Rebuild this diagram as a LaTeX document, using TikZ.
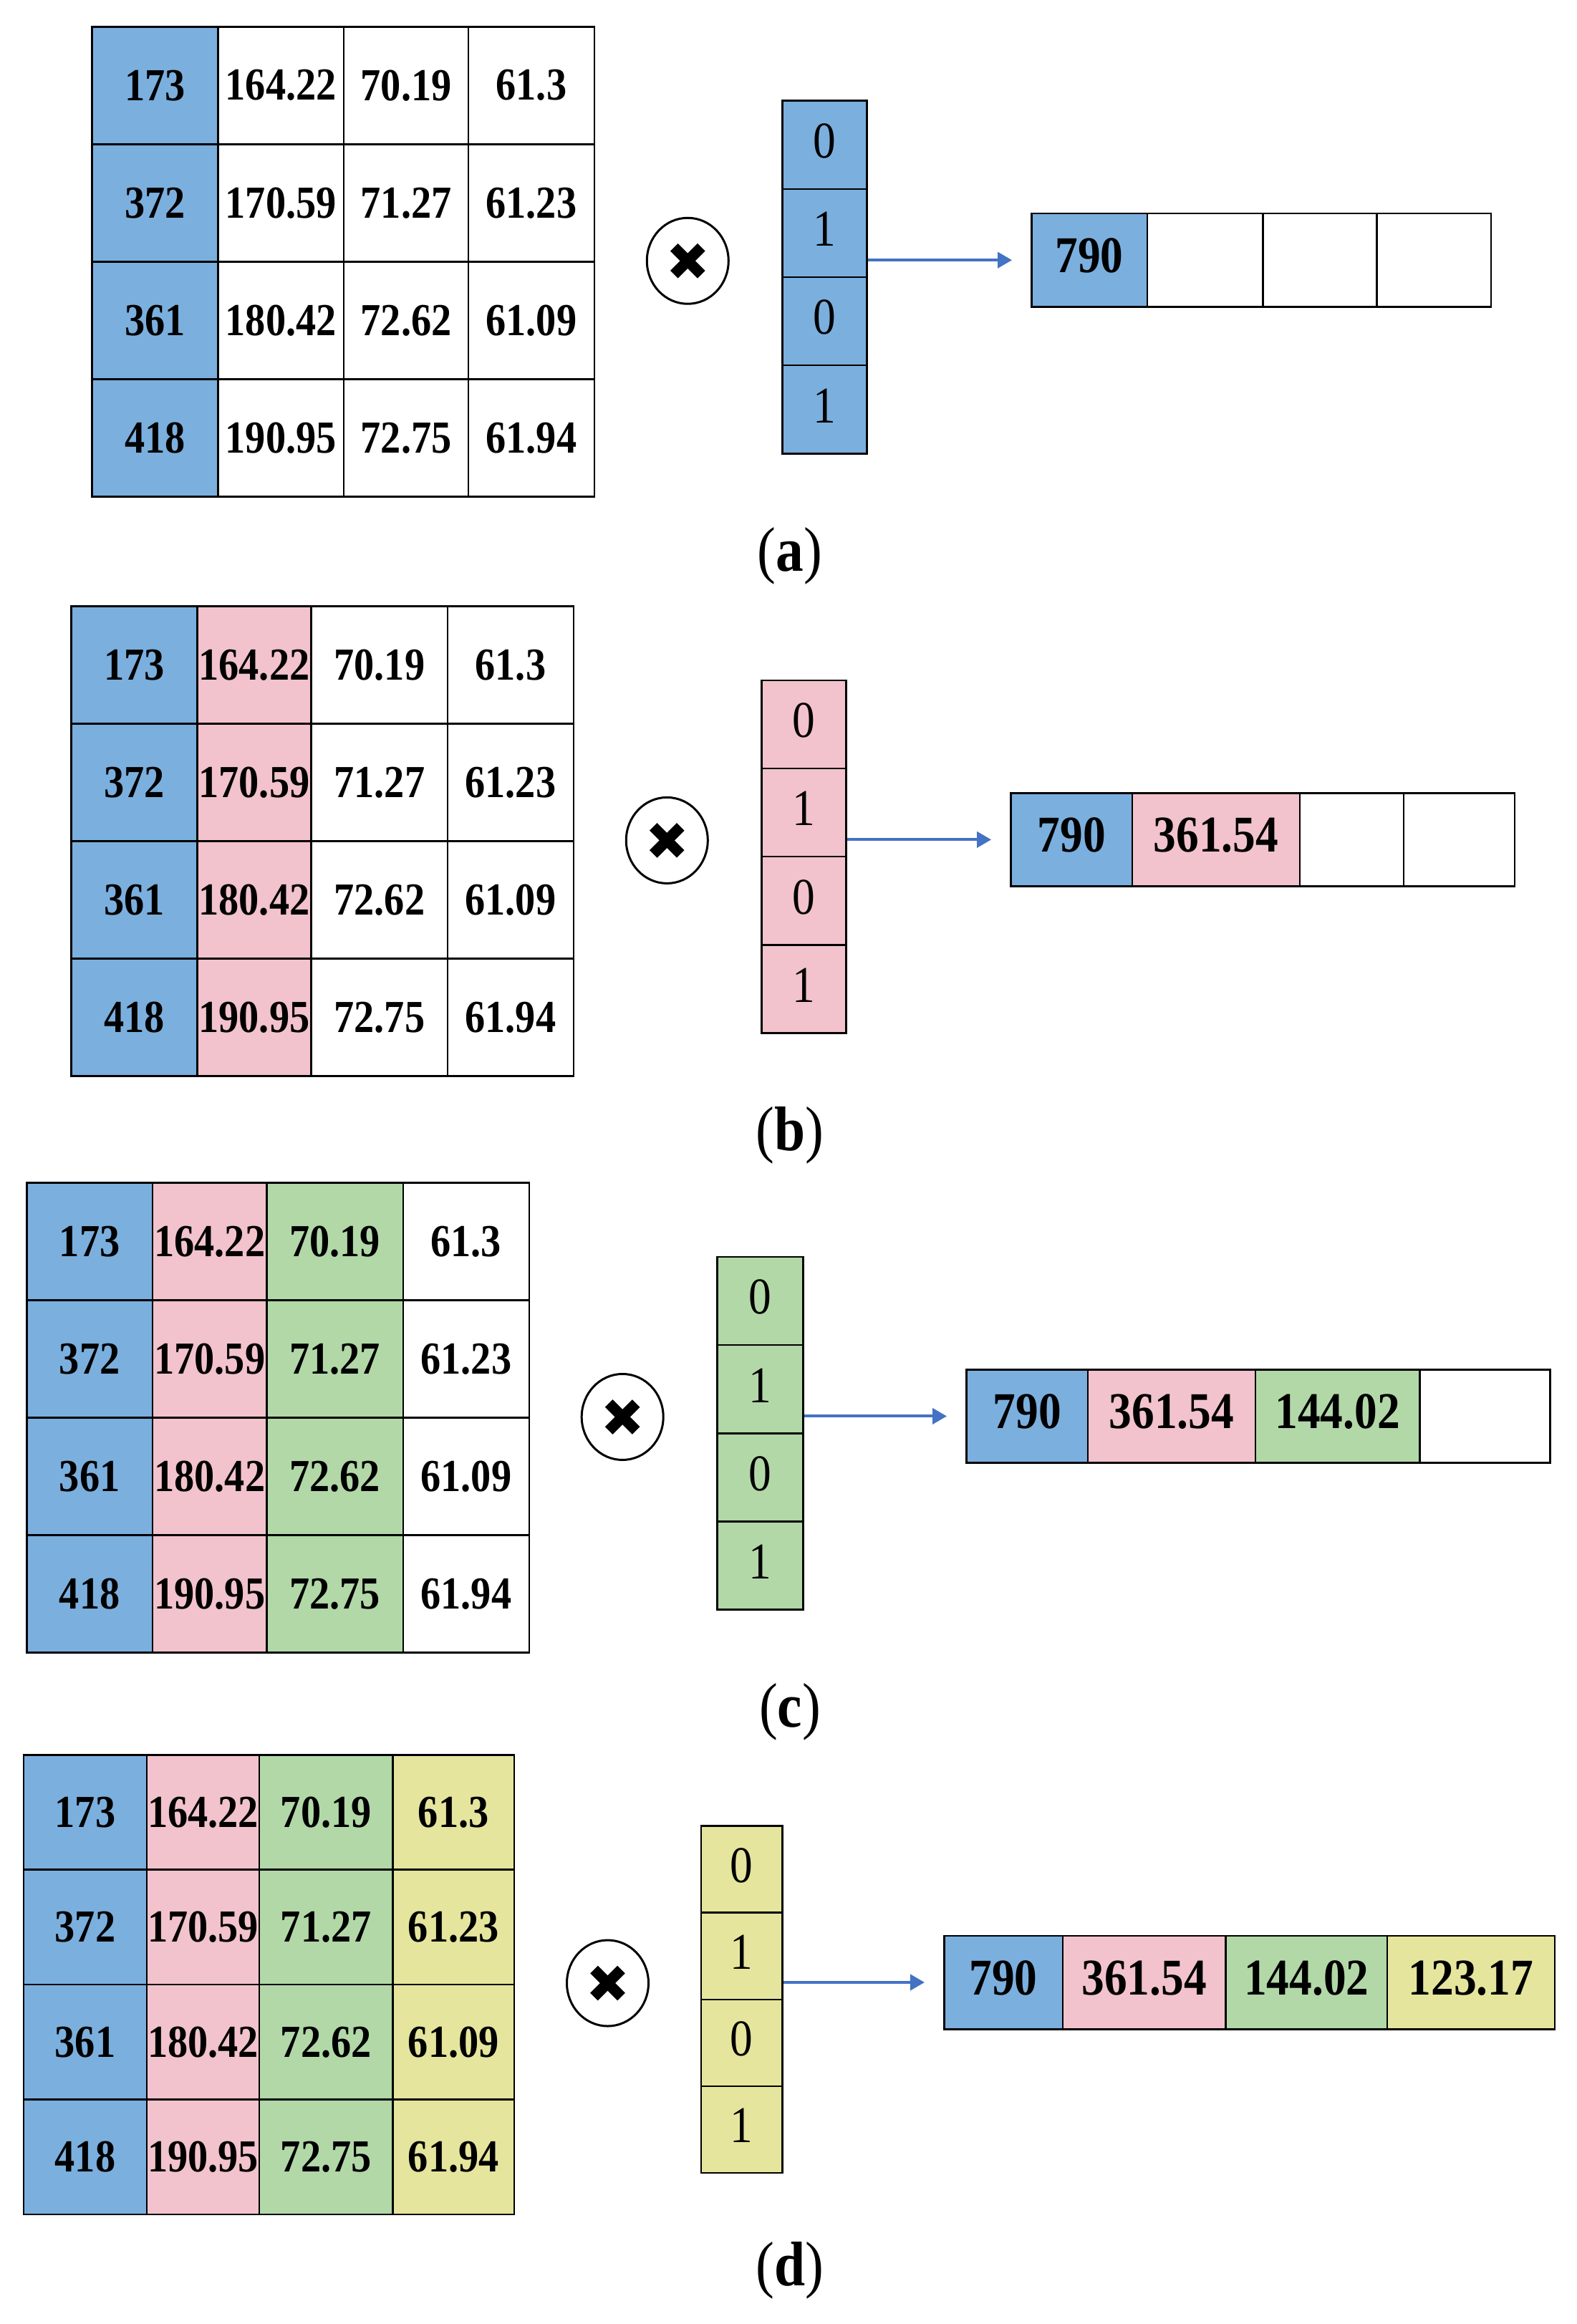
\documentclass[tikz,border=0pt]{standalone}
\usepackage{fontspec}
\setmainfont{Liberation Serif}[FakeStretch=0.88]
\usetikzlibrary{arrows.meta}
\definecolor{cblue}{HTML}{7BAFDE}
\definecolor{cpink}{HTML}{F2C3CC}
\definecolor{cgreen}{HTML}{B2D8A8}
\definecolor{cyellow}{HTML}{E5E59D}
\definecolor{arrowblue}{HTML}{4472C4}
\def\pxu{2.0695pt}
\tikzset{
  cellst/.style={draw=black, line width=2.6pt, inner sep=0pt, font=\fontsize{64}{64}\selectfont\bfseries},
  vecst/.style={draw=black, line width=2.6pt, inner sep=0pt, text height=48.7pt, text depth=12pt, font=\fontsize{72}{72}\selectfont},
  resst/.style={draw=black, line width=2.6pt, inner sep=0pt, text height=48.7pt, text depth=14pt, font=\fontsize{72}{72}\selectfont\bfseries},
  mulst/.style={ellipse, draw=black, line width=3pt, minimum width=114pt, minimum height=120pt, inner sep=0pt,
    path picture={
      \draw[line width=15pt] ([xshift=-19pt,yshift=-19pt]path picture bounding box.center) -- ([xshift=19pt,yshift=19pt]path picture bounding box.center);
      \draw[line width=15pt] ([xshift=-19pt,yshift=19pt]path picture bounding box.center) -- ([xshift=19pt,yshift=-19pt]path picture bounding box.center);
    }},
  arr/.style={draw=arrowblue, line width=4pt, -{Triangle[length=20pt,width=22pt]}, shorten >=26pt},
  lab/.style={font=\fontsize{88}{88}\selectfont, inner sep=0pt},
  fA/.style={fill=white}, fB/.style={fill=white}, fC/.style={fill=white}, fD/.style={fill=white}
}
\usetikzlibrary{shapes.geometric}
% #1 style, #2 name, #3 x1, #4 y1, #5 x2, #6 y2, #7 text
\newcommand\boxcell[7]{%
  \node[#1, minimum width={(#5-#3)*\pxu}, minimum height={(#6-#4)*\pxu}] (#2) at ({(#3+#5)/2},{(#4+#6)/2}) {#7};}
% #1 prefix, #2-#6 column x positions, #7 top y, #8 row height
\newcommand\mtable[8]{%
  \foreach \r/\va/\vb/\vc/\vd in {1/173/164.22/70.19/61.3, 2/372/170.59/71.27/61.23, 3/361/180.42/72.62/61.09, 4/418/190.95/72.75/61.94}{
    \pgfmathsetmacro\ya{#7+(\r-1)*#8}
    \pgfmathsetmacro\yb{#7+\r*#8}
    \boxcell{cellst,fA}{#1-\r-1}{#2}{\ya}{#3}{\yb}{\va}
    \boxcell{cellst,fB}{#1-\r-2}{#3}{\ya}{#4}{\yb}{\vb}
    \boxcell{cellst,fC}{#1-\r-3}{#4}{\ya}{#5}{\yb}{\vc}
    \boxcell{cellst,fD}{#1-\r-4}{#5}{\ya}{#6}{\yb}{\vd}
  }}
% #1 prefix, #2 x1, #3 x2, #4 top y, #5 cell height, #6 fill
\newcommand\mvec[6]{%
  \foreach \r/\v in {1/0,2/1,3/0,4/1}{
    \pgfmathsetmacro\ya{#4+(\r-1)*#5}
    \pgfmathsetmacro\yb{#4+\r*#5}
    \boxcell{vecst,fill=#6}{#1-v-\r}{#2}{\ya}{#3}{\yb}{\v}
  }}
\begin{document}
\begin{tikzpicture}[x=2.0695pt, y=-2.0695pt]
\fill[white] (0,0) rectangle (1064,1568);
\useasboundingbox (0,0) rectangle (1064,1568);

% ---------- (a) ----------
\tikzset{fA/.style={fill=cblue}, fB/.style={fill=white}, fC/.style={fill=white}, fD/.style={fill=white}}
\mtable{a}{62}{147}{232}{316}{401}{18}{79.25}
\node[mulst] (a-mul) at (464,176) {};
\mvec{a}{528}{585}{68}{59.5}{cblue}
\boxcell{resst,fill=cblue}{a-res-1}{696}{144}{774}{207}{790}
\boxcell{resst,fill=white}{a-res-2}{774}{144}{852}{207}{}
\boxcell{resst,fill=white}{a-res-3}{852}{144}{929}{207}{}
\boxcell{resst,fill=white}{a-res-4}{929}{144}{1006}{207}{}
\draw[arr] (a-v-2.east |- a-res-1.west) -- (a-res-1.west);
\node[lab] (lab-a) at (533,375) {(\textbf{a})};

% ---------- (b) ----------
\tikzset{fA/.style={fill=cblue}, fB/.style={fill=cpink}, fC/.style={fill=white}, fD/.style={fill=white}}
\mtable{b}{48}{133}{210}{302}{387}{409}{79.25}
\node[mulst] (b-mul) at (450,567) {};
\mvec{b}{514}{571}{459}{59.5}{cpink}
\boxcell{resst,fill=cblue}{b-res-1}{682}{535}{764}{598}{790}
\boxcell{resst,fill=cpink}{b-res-2}{764}{535}{877}{598}{361.54}
\boxcell{resst,fill=white}{b-res-3}{877}{535}{947}{598}{}
\boxcell{resst,fill=white}{b-res-4}{947}{535}{1022}{598}{}
\draw[arr] (b-v-2.east |- b-res-1.west) -- (b-res-1.west);
\node[lab] (lab-b) at (533,766) {(\textbf{b})};

% ---------- (c) ----------
\tikzset{fA/.style={fill=cblue}, fB/.style={fill=cpink}, fC/.style={fill=cgreen}, fD/.style={fill=white}}
\mtable{c}{18}{103}{180}{272}{357}{798}{79.25}
\node[mulst] (c-mul) at (420,956) {};
\mvec{c}{484}{542}{848}{59.5}{cgreen}
\boxcell{resst,fill=cblue}{c-res-1}{652}{924}{734}{987}{790}
\boxcell{resst,fill=cpink}{c-res-2}{734}{924}{847}{987}{361.54}
\boxcell{resst,fill=cgreen}{c-res-3}{847}{924}{958}{987}{144.02}
\boxcell{resst,fill=white}{c-res-4}{958}{924}{1046}{987}{}
\draw[arr] (c-v-2.east |- c-res-1.west) -- (c-res-1.west);
\node[lab] (lab-c) at (533,1155) {(\textbf{c})};

% ---------- (d) ----------
\tikzset{fA/.style={fill=cblue}, fB/.style={fill=cpink}, fC/.style={fill=cgreen}, fD/.style={fill=cyellow}}
\mtable{d}{16}{99}{175}{265}{347}{1184}{77.5}
\node[mulst] (d-mul) at (410,1338) {};
\mvec{d}{473}{528}{1232}{58.5}{cyellow}
\boxcell{resst,fill=cblue}{d-res-1}{637}{1306}{717}{1369}{790}
\boxcell{resst,fill=cpink}{d-res-2}{717}{1306}{827}{1369}{361.54}
\boxcell{resst,fill=cgreen}{d-res-3}{827}{1306}{936}{1369}{144.02}
\boxcell{resst,fill=cyellow}{d-res-4}{936}{1306}{1049}{1369}{123.17}
\draw[arr] (d-v-2.east |- d-res-1.west) -- (d-res-1.west);
\node[lab] (lab-d) at (533,1532) {(\textbf{d})};
\end{tikzpicture}
\end{document}
